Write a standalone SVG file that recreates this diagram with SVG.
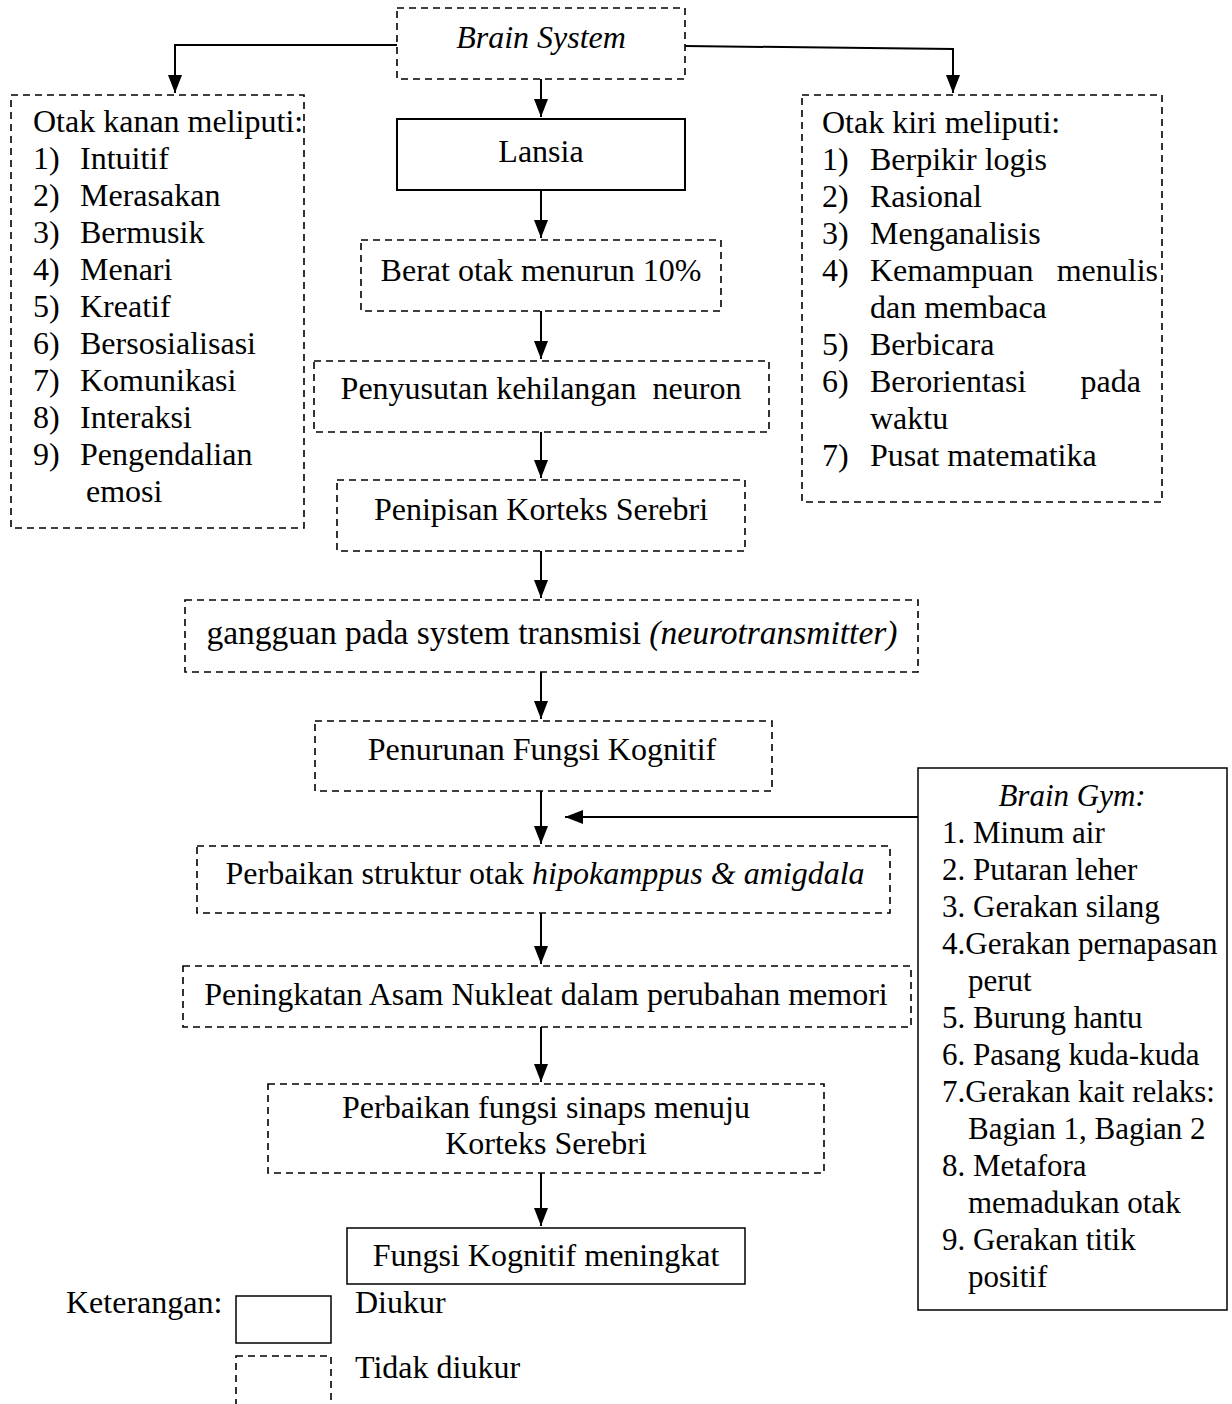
<svg xmlns="http://www.w3.org/2000/svg" width="1232" height="1404" viewBox="0 0 1232 1404">
<style>
text{font-family:"Liberation Serif","Times New Roman",serif;font-size:32px;fill:#000}
.c{text-anchor:middle}
.i{font-style:italic}
.g text{font-size:31px}
.d{fill:#fff;stroke:#000;stroke-width:1.6;stroke-dasharray:7 5}
.s{fill:#fff;stroke:#000;stroke-width:2}
.s1{fill:#fff;stroke:#000;stroke-width:1.5}
.ln{fill:none;stroke:#000;stroke-width:2}
</style>
<defs>
<marker id="ar" markerUnits="userSpaceOnUse" markerWidth="20" markerHeight="14" refX="18" refY="7" orient="auto" viewBox="0 0 20 14">
<path d="M0,0 L18,7 L0,14 Z" fill="#000"/>
</marker>
</defs>

<g id="connectors">
<polyline class="ln" points="397,45 175,45 175,93" marker-end="url(#ar)"/>
<polyline class="ln" points="685,46 953,49 953,93" marker-end="url(#ar)"/>
<line class="ln" x1="541" y1="79" x2="541" y2="117" marker-end="url(#ar)"/>
<line class="ln" x1="541" y1="190" x2="541" y2="238" marker-end="url(#ar)"/>
<line class="ln" x1="541" y1="311" x2="541" y2="359" marker-end="url(#ar)"/>
<line class="ln" x1="541" y1="432" x2="541" y2="478" marker-end="url(#ar)"/>
<line class="ln" x1="541" y1="551" x2="541" y2="598" marker-end="url(#ar)"/>
<line class="ln" x1="541" y1="672" x2="541" y2="719" marker-end="url(#ar)"/>
<line class="ln" x1="541" y1="791" x2="541" y2="844" marker-end="url(#ar)"/>
<line class="ln" x1="918" y1="817" x2="565" y2="817" marker-end="url(#ar)"/>
<line class="ln" x1="541" y1="913" x2="541" y2="964" marker-end="url(#ar)"/>
<line class="ln" x1="541" y1="1027" x2="541" y2="1082" marker-end="url(#ar)"/>
<line class="ln" x1="541" y1="1173" x2="541" y2="1226" marker-end="url(#ar)"/>
</g>

<g id="brain-system">
<rect class="d" x="397" y="8" width="288" height="71"/>
<text class="c i" x="541" y="48">Brain System</text>
</g>

<g id="otak-kanan">
<rect class="d" x="11" y="95" width="293" height="433"/>
<text x="33" y="132">Otak kanan meliputi:</text>
<text x="33" y="169">1)</text><text x="80" y="169">Intuitif</text>
<text x="33" y="206">2)</text><text x="80" y="206">Merasakan</text>
<text x="33" y="243">3)</text><text x="80" y="243">Bermusik</text>
<text x="33" y="280">4)</text><text x="80" y="280">Menari</text>
<text x="33" y="317">5)</text><text x="80" y="317">Kreatif</text>
<text x="33" y="354">6)</text><text x="80" y="354">Bersosialisasi</text>
<text x="33" y="391">7)</text><text x="80" y="391">Komunikasi</text>
<text x="33" y="428">8)</text><text x="80" y="428">Interaksi</text>
<text x="33" y="465">9)</text><text x="80" y="465">Pengendalian</text>
<text x="86" y="502">emosi</text>
</g>

<g id="otak-kiri">
<rect class="d" x="802" y="95" width="360" height="407"/>
<text x="822" y="133">Otak kiri meliputi:</text>
<text x="822" y="170">1)</text><text x="870" y="170">Berpikir logis</text>
<text x="822" y="207">2)</text><text x="870" y="207">Rasional</text>
<text x="822" y="244">3)</text><text x="870" y="244">Menganalisis</text>
<text x="822" y="281">4)</text><text x="870" y="281">Kemampuan</text><text x="1158" y="281" text-anchor="end">menulis</text>
<text x="870" y="318">dan membaca</text>
<text x="822" y="355">5)</text><text x="870" y="355">Berbicara</text>
<text x="822" y="392">6)</text><text x="870" y="392">Berorientasi</text><text x="1141" y="392" text-anchor="end">pada</text>
<text x="870" y="429">waktu</text>
<text x="822" y="466">7)</text><text x="870" y="466">Pusat matematika</text>
</g>

<g id="lansia">
<rect class="s" x="397" y="119" width="288" height="71"/>
<text class="c" x="541" y="162">Lansia</text>
</g>

<g id="berat-otak">
<rect class="d" x="361" y="240" width="360" height="71"/>
<text class="c" x="541" y="281">Berat otak menurun 10%</text>
</g>

<g id="penyusutan">
<rect class="d" x="314" y="361" width="455" height="71"/>
<text class="c" x="541" y="399" style="white-space:pre">Penyusutan kehilangan  neuron</text>
</g>

<g id="penipisan">
<rect class="d" x="337" y="480" width="408" height="71"/>
<text class="c" x="541" y="520">Penipisan Korteks Serebri</text>
</g>

<g id="gangguan">
<rect class="d" x="185" y="600" width="733" height="72"/>
<text class="c" x="552" y="644" style="font-size:33.5px">gangguan pada system transmisi <tspan class="i">(neurotransmitter)</tspan></text>
</g>

<g id="penurunan">
<rect class="d" x="315" y="721" width="457" height="70"/>
<text class="c" x="542" y="760">Penurunan Fungsi Kognitif</text>
</g>

<g id="brain-gym" class="g">
<rect class="s1" x="918" y="768" width="309" height="542"/>
<text class="c i" x="1072" y="806">Brain Gym:</text>
<text x="942" y="843">1. Minum air</text>
<text x="942" y="880">2. Putaran leher</text>
<text x="942" y="917">3. Gerakan silang</text>
<text x="942" y="954">4.Gerakan pernapasan</text>
<text x="968" y="991">perut</text>
<text x="942" y="1028">5. Burung hantu</text>
<text x="942" y="1065">6. Pasang kuda-kuda</text>
<text x="942" y="1102">7.Gerakan kait relaks:</text>
<text x="968" y="1139">Bagian 1, Bagian 2</text>
<text x="942" y="1176">8. Metafora</text>
<text x="968" y="1213">memadukan otak</text>
<text x="942" y="1250">9. Gerakan titik</text>
<text x="968" y="1287">positif</text>
</g>

<g id="perbaikan-struktur">
<rect class="d" x="197" y="846" width="693" height="67"/>
<text class="c" x="545" y="884">Perbaikan struktur otak <tspan class="i">hipokamppus &amp; amigdala</tspan></text>
</g>

<g id="peningkatan">
<rect class="d" x="183" y="966" width="728" height="61"/>
<text class="c" x="546" y="1005">Peningkatan Asam Nukleat dalam perubahan memori</text>
</g>

<g id="perbaikan-fungsi">
<rect class="d" x="268" y="1084" width="556" height="89"/>
<text class="c" x="546" y="1118">Perbaikan fungsi sinaps menuju</text>
<text class="c" x="546" y="1154">Korteks Serebri</text>
</g>

<g id="fungsi-meningkat">
<rect class="s1" x="347" y="1228" width="398" height="56"/>
<text class="c" x="546" y="1266">Fungsi Kognitif meningkat</text>
</g>

<g id="legend">
<text x="66" y="1313">Keterangan:</text>
<rect class="s1" x="236" y="1296" width="95" height="47"/>
<text x="355" y="1313">Diukur</text>
<rect class="d" x="236" y="1356" width="95" height="50"/>
<text x="355" y="1378">Tidak diukur</text>
</g>
</svg>
